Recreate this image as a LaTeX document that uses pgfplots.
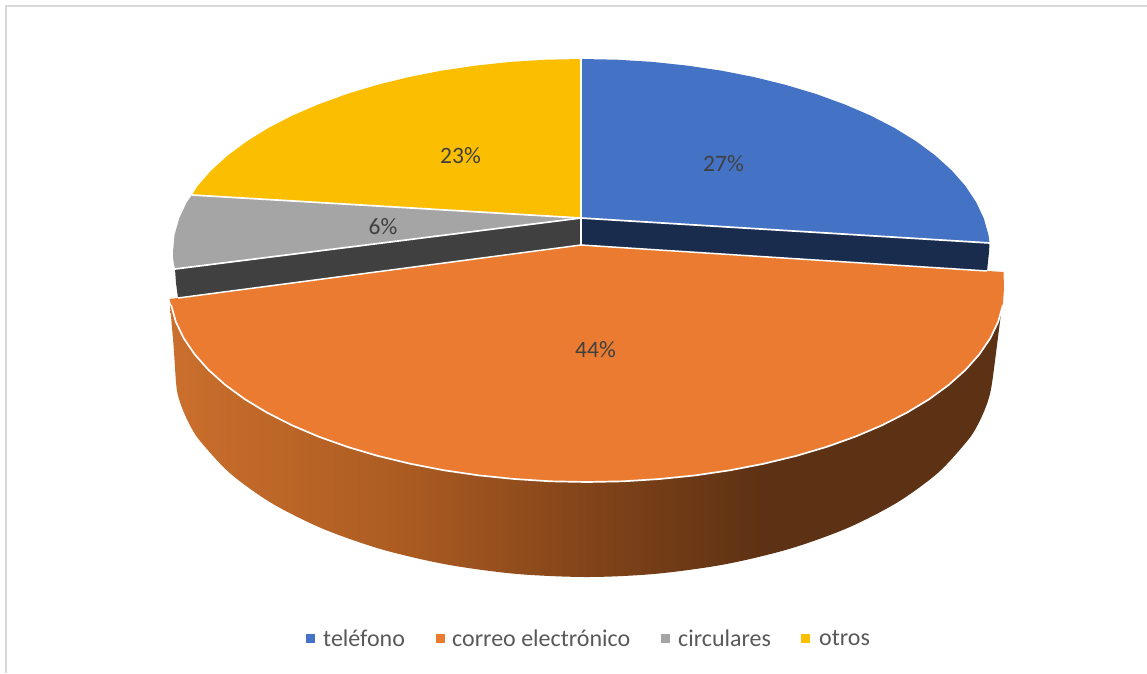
\documentclass[border=0pt]{standalone}
\usepackage{pgfplots}
\pgfplotsset{compat=1.18}
\usepackage{fontspec}
\setmainfont{Carlito}

\definecolor{cBlue}{HTML}{4472C4}
\definecolor{cBlueSide}{HTML}{1A2C4E}
\definecolor{cOrange}{HTML}{EB7B30}
\definecolor{cGray}{HTML}{A5A5A5}
\definecolor{cGraySide}{HTML}{404040}
\definecolor{cYellow}{HTML}{FBBE00}
\definecolor{cFrame}{HTML}{D9D9D9}
\definecolor{cLabel}{HTML}{404040}
\definecolor{cLegend}{HTML}{595959}

% wall of the pulled-out slice, lit from the left
\definecolor{sA}{HTML}{CB6F2D}
\definecolor{sB}{HTML}{AC5C22}
\definecolor{sC}{HTML}{824419}
\definecolor{sD}{HTML}{5C3114}
\pgfdeclarehorizontalshading{wallshade}{100bp}{
  color(0bp)=(sA); color(25bp)=(sA); color(38.8bp)=(sB);
  color(50.2bp)=(sC); color(61bp)=(sD); color(100bp)=(sD)}

\begin{document}
\begin{tikzpicture}
\useasboundingbox (0pt,0pt) rectangle (1147pt,673pt);
\begin{axis}[
  at={(0pt,0pt)}, anchor=south west,
  width=1147pt, height=673pt, scale only axis,
  xmin=0, xmax=1147, ymin=0, ymax=673, y dir=reverse,
  hide axis, clip=true,
]
% chart frame
\addplot[cFrame, line width=1.6pt] coordinates {(5.8,673) (5.8,5.8) (1147,5.8)};

% side walls of the three slices left in place
\addplot[fill=cBlueSide, draw=none] coordinates {(581,218) (989.5,243) (989,252) (987,271) (581,245)};
\addplot[fill=cGraySide, draw=none] coordinates {(581,218) (175,269) (176,283) (178,298) (581,245)};

% top faces
\addplot[fill=cBlue, draw=none] coordinates {
  (581.5,218) (581.5,59) (617.1,59.7) (652.4,61.9) (687.2,65.6) (721.2,70.6) (754.1,77.1)
  (785.8,84.9) (815.8,93.9) (844.1,104.2) (870.4,115.5) (894.4,127.9) (916.1,141.3)
  (935.3,155.5) (951.7,170.4) (965.4,186) (976.1,202.1) (983.8,218.5) (988.5,235.2) (989.5,243)};
\addplot[fill=cGray, draw=none] coordinates {
  (581,218) (192,195) (186.9,202.1) (179.2,218.5) (174.5,235.2) (173,252) (173.3,260.4) (175,269)};
\addplot[fill=cYellow, draw=none] coordinates {
  (581.5,218) (192,195) (197.6,186) (211.3,170.4) (227.7,155.5) (246.9,141.3) (268.6,127.9)
  (292.6,115.5) (318.9,104.2) (347.2,93.9) (377.2,84.9) (408.9,77.1) (441.8,70.6)
  (475.8,65.6) (510.6,61.9) (545.9,59.7) (581.5,59)};

% white seams between the slices
\addplot[white, line width=1.7pt] coordinates {(192,195) (581,218) (990,243)};
\addplot[white, line width=1.7pt] coordinates {(175,269) (581,218) (581,245)};
\addplot[white, line width=1.5pt] coordinates {(581,59) (581,218)};

% wall of the pulled-out slice
\addplot[draw=none, shade, shading=wallshade, shading angle=0, smooth, tension=0.5] coordinates {
  (170,305) (173.5,345) (176.6,388) (181.3,405.9) (189.1,423.6) (199.9,440.8) (230.3,473.5)
  (271.6,503.1) (322.5,528.6) (381.5,549.3) (446.7,564.5) (516.3,573.9) (588,577) (655.8,573.8)
  (724.5,564.4) (789,549) (847.3,528.1) (897.5,502.3) (938.3,472.5) (968.4,439.5) (979.1,422.1)
  (986.8,404.3) (991.5,386.2) (997,345) (1002,305)};

% top face of the pulled-out slice
\addplot[fill=cOrange, draw=none] coordinates {
  (581,245) (1003.5,272) (1004,288) (1002.9,304.9) (998.2,321.7) (990.3,338.2) (979.3,354.4)
  (965.4,370) (948.6,385) (929,399.3) (906.8,412.7) (882.2,425.2) (855.4,436.6) (826.5,446.9)
  (795.8,456) (763.4,463.8) (729.8,470.3) (695,475.4) (659.5,479) (623.4,481.3) (587,482)
  (550.6,481.3) (514.5,479) (479,475.4) (444.2,470.3) (410.6,463.8) (378.2,456) (347.5,446.9)
  (318.6,436.6) (291.8,425.2) (267.2,412.7) (245,399.3) (225.4,385) (208.6,370) (194.7,354.4)
  (183.7,338.2) (175.8,321.7) (171.1,304.9) (169.5,299)};
\addplot[white, line width=1.5pt] coordinates {(178,298) (581,245) (987,271)};
\addplot[white, line width=1.7pt] coordinates {
  (1002.9,304.9) (998.2,321.7) (990.3,338.2) (979.3,354.4)
  (965.4,370) (948.6,385) (929,399.3) (906.8,412.7) (882.2,425.2) (855.4,436.6) (826.5,446.9)
  (795.8,456) (763.4,463.8) (729.8,470.3) (695,475.4) (659.5,479) (623.4,481.3) (587,482)
  (550.6,481.3) (514.5,479) (479,475.4) (444.2,470.3) (410.6,463.8) (378.2,456) (347.5,446.9)
  (318.6,436.6) (291.8,425.2) (267.2,412.7) (245,399.3) (225.4,385) (208.6,370) (194.7,354.4)
  (183.7,338.2) (175.8,321.7) (171.1,304.9)};

% percentage labels
\node[text=cLabel, font=\fontsize{23.5}{26}\selectfont] at (axis cs:723.5,164) {27\%};
\node[text=cLabel, font=\fontsize{23.5}{26}\selectfont] at (axis cs:460.5,156) {23\%};
\node[text=cLabel, font=\fontsize{23.5}{26}\selectfont] at (axis cs:383,227) {6\%};
\node[text=cLabel, font=\fontsize{23.5}{26}\selectfont] at (axis cs:595.5,350) {44\%};

% legend
\addplot[only marks, mark=square*, mark size=4pt, cBlue] coordinates {(310,638.5)};
\addplot[only marks, mark=square*, mark size=4pt, cOrange] coordinates {(440,638.5)};
\addplot[only marks, mark=square*, mark size=4pt, cGray] coordinates {(665,638.5)};
\addplot[only marks, mark=square*, mark size=4pt, cYellow] coordinates {(805,638.5)};
\node[anchor=west, inner sep=0pt, text=cLegend, font=\fontsize{24}{26}\selectfont] at (axis cs:323,638) {teléfono};
\node[anchor=west, inner sep=0pt, text=cLegend, font=\fontsize{24}{26}\selectfont] at (axis cs:452,638) {correo electrónico};
\node[anchor=west, inner sep=0pt, text=cLegend, font=\fontsize{24}{26}\selectfont] at (axis cs:678,638) {circulares};
\node[anchor=west, inner sep=0pt, text=cLegend, font=\fontsize{24}{26}\selectfont] at (axis cs:819,638) {otros};
\end{axis}
\end{tikzpicture}
\end{document}
